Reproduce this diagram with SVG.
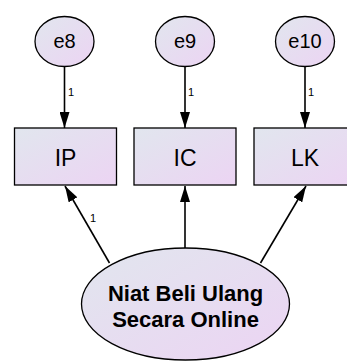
<svg xmlns="http://www.w3.org/2000/svg" width="347" height="361" viewBox="0 0 347 361">
<style>
.shape{fill:url(#g);stroke:#000;stroke-width:1.3}
.lbl{font-family:"Liberation Sans",Arial,sans-serif;fill:#000;text-anchor:middle}
.big{font-size:20px}
.obs{font-size:23px}
.lat{font-size:22px;font-weight:bold}
.w{font-size:11px;text-anchor:start}
.con{stroke:#000;stroke-width:1.6;fill:none;marker-end:url(#ah)}
</style>
<defs>
<linearGradient id="g" x1="0" y1="0" x2="1" y2="1">
<stop offset="0" stop-color="#e1e6ee"/>
<stop offset="1" stop-color="#ecd4f3"/>
</linearGradient>
<marker id="ah" viewBox="0 0 16 10" refX="16" refY="5" markerWidth="16" markerHeight="10" markerUnits="userSpaceOnUse" orient="auto">
<path d="M0,0 L16,5 L0,10 Z" fill="#000"/>
</marker>
</defs>
<g id="connectors">
<line class="con" x1="64.5" y1="67" x2="64.5" y2="128"/>
<line class="con" x1="185" y1="67" x2="185" y2="128"/>
<line class="con" x1="305" y1="67" x2="305" y2="128"/>
<line class="con" x1="109.5" y1="263" x2="65" y2="186"/>
<line class="con" x1="185" y1="248" x2="185" y2="186"/>
<line class="con" x1="260.5" y1="263" x2="306" y2="186"/>
<text class="lbl w" x="68" y="96">1</text>
<text class="lbl w" x="188" y="96">1</text>
<text class="lbl w" x="308" y="96">1</text>
<text class="lbl w" x="90" y="222">1</text>
</g>
<g id="e8"><ellipse class="shape" cx="64.5" cy="41.5" rx="29.5" ry="25"/><text class="lbl big" x="64.5" y="48">e8</text></g>
<g id="e9"><ellipse class="shape" cx="185" cy="41.5" rx="29.5" ry="25"/><text class="lbl big" x="185" y="48">e9</text></g>
<g id="e10"><ellipse class="shape" cx="305" cy="41.5" rx="29.5" ry="25"/><text class="lbl big" x="305" y="48">e10</text></g>
<g id="IP"><rect class="shape" x="14.5" y="128" width="102" height="57"/><text class="lbl obs" x="65.5" y="166">IP</text></g>
<g id="IC"><rect class="shape" x="134" y="128" width="102" height="57"/><text class="lbl obs" x="185" y="166">IC</text></g>
<g id="LK"><rect class="shape" x="254" y="128" width="102" height="57"/><text class="lbl obs" x="305" y="166">LK</text></g>
<g id="NBUSO"><ellipse class="shape" cx="185.5" cy="304" rx="104" ry="56"/><text class="lbl lat" x="185.5" y="301">Niat Beli Ulang</text><text class="lbl lat" x="185.5" y="327">Secara Online</text></g>
</svg>
